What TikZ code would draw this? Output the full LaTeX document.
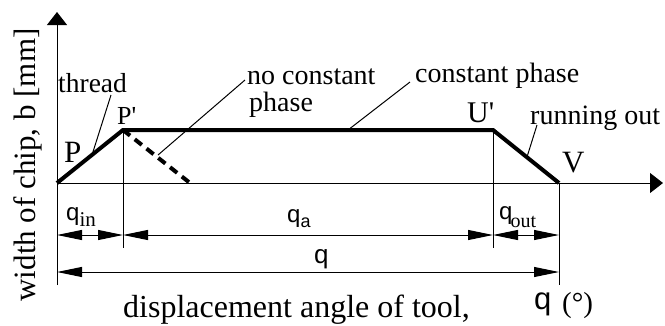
\documentclass[tikz,border=0pt]{standalone}
\usepackage{fontspec}
\setmainfont{Liberation Serif}
\newfontfamily\arialfont{Liberation Sans}
\usetikzlibrary{arrows.meta}
\tikzset{
  fine/.style={line width=1pt},
  profile/.style={line width=4pt, line join=miter},
  dashprofile/.style={line width=4pt, dash pattern=on 9pt off 6pt},
  axisarrow/.style={fine, -{Triangle[length=13pt,width=20pt]}},
  dimarrow/.style={fine, {Triangle[length=25pt,width=10pt]}-{Triangle[length=25pt,width=10pt]}},
  lbl/.style={inner sep=0pt, anchor=base west},
}
\newcommand{\fsz}[1]{\fontsize{#1}{#1}\selectfont}
\begin{document}
\begin{tikzpicture}[x=1pt,y=-1pt]
\useasboundingbox (0,0) rectangle (665,325);
% key points
\coordinate (O) at (57,183);
\coordinate (Ytop) at (57,12);
\coordinate (Ybot) at (57,285);
\coordinate (Xend) at (663,183);
\coordinate (P) at (57,183);
\coordinate (Pp) at (123,130);
\coordinate (Up) at (493,130);
\coordinate (V) at (559,183);
\coordinate (D) at (190,183);
\coordinate (PpB) at (123,248);
\coordinate (UpB) at (493,248);
\coordinate (VB) at (559,285);
\coordinate (A1) at (57,235);
\coordinate (A2) at (123,235);
\coordinate (A3) at (493,235);
\coordinate (A4) at (559,235);
\coordinate (B1) at (57,272);
\coordinate (B2) at (559,272);
% axes
\draw[axisarrow] (Ybot) -- (Ytop);
\draw[axisarrow] (O) -- (Xend);
% extension lines
\draw[fine] (Pp) -- (PpB);
\draw[fine] (Up) -- (UpB);
\draw[fine] (V) -- (VB);
% profile
\draw[profile] (P) -- (Pp) -- (Up) -- (V);
\draw[dashprofile] (Pp) -- (D);
% dimension lines
\draw[dimarrow] (A1) -- (A2);
\draw[dimarrow] (A2) -- (A3);
\draw[dimarrow] (A3) -- (A4);
\draw[dimarrow] (B1) -- (B2);
% point labels
\node[lbl] (lP) at (64,162) {\fsz{31}P};
\node[lbl] (lPp) at (117,124) {\fsz{26}P\textquotesingle};
\node[lbl] (lUp) at (467,122) {\fsz{30}U\textquotesingle};
\node[lbl] (lV) at (562,172) {\fsz{31}V};
% annotations
\node[lbl] (thread) at (58,92) {\fsz{27.5}thread};
\node[lbl] (nocon) at (247,84) {\fsz{28}no constant};
\node[lbl] (nocon2) at (249,111) {\fsz{28}phase};
\node[lbl] (con) at (415,82) {\fsz{28}constant phase};
\node[lbl] (run) at (530,124) {\fsz{28}running out};
\coordinate (t1) at (111,95);
\coordinate (t2) at (92,155);
\coordinate (n1) at (245,80);
\coordinate (n2) at (158,155);
\coordinate (c1) at (410,82);
\coordinate (c2) at (348,130);
\coordinate (r1) at (537,125);
\coordinate (r2) at (527,157);
\draw[fine] (t1) -- (t2);
\draw[fine] (n1) -- (n2);
\draw[fine] (c1) -- (c2);
\draw[fine] (r1) -- (r2);
% dimension labels
\node[lbl] (qin) at (66,220) {\arialfont\fsz{24}q\raisebox{-6pt}{\rmfamily\fsz{21}in}};
\node[lbl] (qa) at (287,222) {\arialfont\fsz{24}q\raisebox{-5pt}{\fsz{18}a}};
\node[lbl] (qout) at (499,219) {\arialfont\fsz{24}q\raisebox{-8pt}{\kern-2pt\rmfamily\fsz{20}out}};
\node[lbl] (qtot) at (314,263) {\arialfont\fsz{26}q};
% axis titles
\node[inner sep=0pt, rotate=90, anchor=base] (ytitle) at (35,165) {\fsz{31}width of chip, b [mm]};
\node[lbl] (xtitle) at (123,317) {\fsz{32}displacement angle of tool,};
\node[lbl] (xq) at (534,309) {\arialfont\fsz{31}q};
\node[lbl] (xdeg) at (562,312) {\fsz{29}(°)};
\end{tikzpicture}
\end{document}
